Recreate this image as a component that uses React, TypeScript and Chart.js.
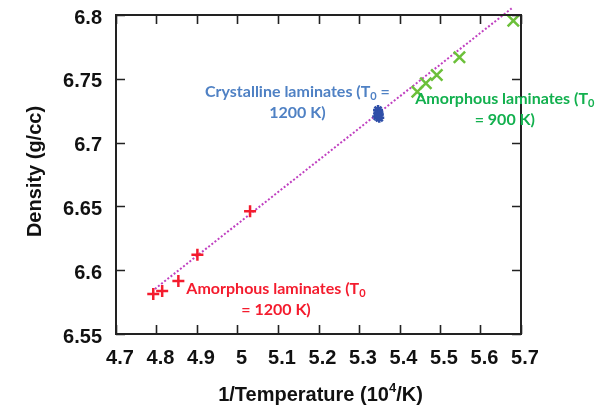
import React, { useEffect, useRef } from "react";
import { Chart, registerables } from "chart.js";

Chart.register(...registerables);

const xTicks = [4.7, 4.8, 4.9, 5.0, 5.1, 5.2, 5.3, 5.4, 5.5, 5.6, 5.7];
const xTickLabels = ["4.7", "4.8", "4.9", "5", "5.1", "5.2", "5.3", "5.4", "5.5", "5.6", "5.7"];
const yTicks = [6.55, 6.6, 6.65, 6.7, 6.75, 6.8];
const yTickLabels = ["6.55", "6.6", "6.65", "6.7", "6.75", "6.8"];

const redX = [4.792, 4.814, 4.854, 4.901, 5.031];
const redY = [6.5813, 6.5837, 6.5915, 6.6122, 6.6462];

const greenX = [5.444, 5.465, 5.492, 5.548, 5.681];
const greenY = [6.7399, 6.7465, 6.753, 6.7669, 6.7955];

const blueX = [5.345, 5.348, 5.350, 5.347, 5.349];
const blueY = [6.7205, 6.7235, 6.7195, 6.7255, 6.7220];

const fitX = [4.796, 5.677];
const fitY = [6.5853, 6.8052];

const xTitle = "1/Temperature (10";
const xTitleSup = "4";
const xTitleEnd = "/K)";
const yTitle = "Density (g/cc)";

const notes = [
  { x: 5.148, y: 6.7397, color: "#4f81c4", lines: [[["Crystalline laminates (T", false], ["0", true], [" =", false]], [["1200 K)", false]]] },
  { x: 5.66, y: 6.7342, color: "#12b04e", lines: [[["Amorphous laminates (T", false], ["0", true]], [["= 900 K)", false]]] },
  { x: 5.095, y: 6.5853, color: "#f41c2e", lines: [[["Amorphous laminates (T", false], ["0", true]], [["= 1200 K)", false]]] },
];

const NOTE_FONT = "bold 16px Lato";
const NOTE_SUB_FONT = "bold 11px Lato";

const framePlugin = {
  id: "frame",
  afterDraw(chart: any) {
    const { ctx, chartArea: a, scales } = chart;
    const xs = scales.x, ys = scales.y;
    ctx.save();
    ctx.strokeStyle = "#222";
    ctx.lineWidth = 2;
    ctx.strokeRect(a.left, a.top, a.right - a.left, a.bottom - a.top);
    const tl = 9;
    ctx.beginPath();
    xTicks.forEach((v) => {
      const px = Math.round(xs.getPixelForValue(v)) + 0.5;
      ctx.moveTo(px, a.bottom); ctx.lineTo(px, a.bottom - tl);
      ctx.moveTo(px, a.top); ctx.lineTo(px, a.top + tl);
    });
    yTicks.forEach((v) => {
      const py = Math.round(ys.getPixelForValue(v)) + 0.5;
      ctx.moveTo(a.left, py); ctx.lineTo(a.left + tl, py);
      ctx.moveTo(a.right, py); ctx.lineTo(a.right - tl, py);
    });
    ctx.lineWidth = 1.6;
    ctx.stroke();

    // x title with superscript
    ctx.fillStyle = "#111";
    ctx.textBaseline = "alphabetic";
    const big = "bold 20px 'Liberation Sans', Arial";
    const small = "bold 13px 'Liberation Sans', Arial";
    ctx.font = big;
    const w1 = ctx.measureText(xTitle).width;
    const w3 = ctx.measureText(xTitleEnd).width;
    ctx.font = small;
    const w2 = ctx.measureText(xTitleSup).width;
    const total = w1 + w2 + w3;
    let sx = (a.left + a.right) / 2 + 2 - total / 2;
    const by = 401;
    ctx.font = big; ctx.textAlign = "left";
    ctx.fillText(xTitle, sx, by); sx += w1;
    ctx.font = small; ctx.fillText(xTitleSup, sx, by - 9); sx += w2;
    ctx.font = big; ctx.fillText(xTitleEnd, sx, by);

    // y title
    ctx.save();
    ctx.translate(35, (a.top + a.bottom) / 2 - 3);
    ctx.rotate(-Math.PI / 2);
    ctx.font = big;
    ctx.textAlign = "center";
    ctx.textBaseline = "middle";
    ctx.fillText(yTitle, 0, 0);
    ctx.restore();

    // annotations
    notes.forEach((n) => {
      const cx = xs.getPixelForValue(n.x);
      const cy = ys.getPixelForValue(n.y);
      n.lines.forEach((line: any, li: number) => {
        let tw = 0;
        line.forEach(([t, sub]: any) => { ctx.font = sub ? NOTE_SUB_FONT : NOTE_FONT; tw += ctx.measureText(t).width; });
        let lx = cx - tw / 2;
        const ly = cy + li * 21 + 5;
        ctx.fillStyle = n.color;
        ctx.textAlign = "left";
        ctx.textBaseline = "alphabetic";
        line.forEach(([t, sub]: any) => {
          ctx.font = sub ? NOTE_SUB_FONT : NOTE_FONT;
          ctx.fillText(t, lx, sub ? ly + 3 : ly);
          lx += ctx.measureText(t).width;
        });
      });
    });
    ctx.restore();
  },
};

export default function App() {
  const ref = useRef<HTMLCanvasElement>(null);
  useEffect(() => {
    if (!ref.current) return;
    const chart = new Chart(ref.current, {
      type: "scatter",
      data: {
        datasets: [
          {
            type: "line",
            data: fitX.map((x, i) => ({ x, y: fitY[i] })),
            borderColor: "#c040c0",
            borderWidth: 2,
            borderDash: [2, 2],
            pointRadius: 0,
            clip: false as any,
            order: 5,
          } as any,
          {
            data: redX.map((x, i) => ({ x, y: redY[i] })),
            pointStyle: "cross",
            pointRadius: 6,
            borderColor: "#f41c2e",
            backgroundColor: "#f41c2e",
            borderWidth: 2.5,
          },
          {
            data: greenX.map((x, i) => ({ x, y: greenY[i] })),
            pointStyle: "crossRot",
            pointRadius: 8,
            borderColor: "#6cc03a",
            backgroundColor: "#6cc03a",
            borderWidth: 2.5,
          },
          {
            data: blueX.map((x, i) => ({ x, y: blueY[i] })),
            pointStyle: "star",
            pointRadius: 5,
            borderColor: "#2f4fa8",
            backgroundColor: "#2f4fa8",
            borderWidth: 2.5,
          },
        ],
      },
      options: {
        responsive: false,
        animation: false,
        devicePixelRatio: 1,
        layout: { padding: { left: 0, top: 15, right: 83, bottom: 0 } },
        plugins: { legend: { display: false }, tooltip: { enabled: false } },
        scales: {
          x: {
            type: "linear",
            min: 4.7,
            max: 5.7,
            afterFit: (s: any) => { s.height = 79; s.paddingLeft = 0; s.paddingRight = 0; },
            afterBuildTicks: (s: any) => { s.ticks = xTicks.map((v) => ({ value: v })); },
            grid: { display: false, drawTicks: false },
            border: { display: false },
            ticks: {
              padding: 12,
              labelOffset: 4,
              color: "#111",
              font: { family: "'Liberation Sans', Arial", size: 20, weight: "bold" },
              callback: (v: any) => { const i = xTicks.findIndex((t) => Math.abs(t - v) < 1e-6); return i >= 0 ? xTickLabels[i] : ""; },
              maxRotation: 0,
              autoSkip: false,
            },
          },
          y: {
            type: "linear",
            min: 6.55,
            max: 6.8,
            afterFit: (s: any) => { s.width = 116; s.paddingTop = 0; s.paddingBottom = 0; },
            afterBuildTicks: (s: any) => { s.ticks = yTicks.map((v) => ({ value: v })); },
            grid: { display: false, drawTicks: false },
            border: { display: false },
            ticks: {
              padding: 14,
              labelOffset: 3,
              color: "#111",
              font: { family: "'Liberation Sans', Arial", size: 20, weight: "bold" },
              callback: (v: any) => { const i = yTicks.findIndex((t) => Math.abs(t - v) < 1e-6); return i >= 0 ? yTickLabels[i] : ""; },
              autoSkip: false,
            },
          },
        },
      },
      plugins: [framePlugin],
    } as any);
    return () => chart.destroy();
  }, []);
  return (
    <div style={{ position: "absolute", left: 0, top: 0, width: 604, height: 413, background: "#fff" }}>
      <canvas ref={ref} width={604} height={413} style={{ width: 604, height: 413 }} />
    </div>
  );
}
